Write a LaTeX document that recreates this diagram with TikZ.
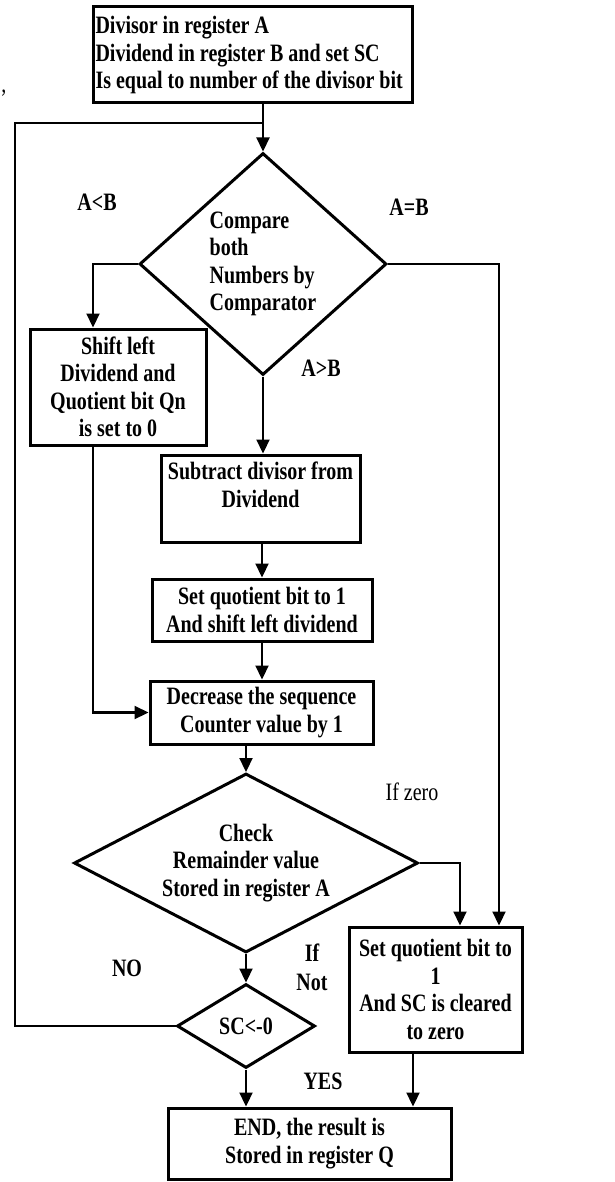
\documentclass[tikz,border=0pt]{standalone}
\usepackage{fontspec}
\setmainfont{Liberation Serif}[FakeStretch=0.8]
\usepackage{tikz}
\usetikzlibrary{arrows.meta,shapes.geometric,positioning}
\newcommand{\flowfont}{\fontsize{25}{27.5}\selectfont}
\tikzset{
  procbox/.style={
    draw,
    line width=3pt,
    align=center,
    inner sep=0pt,
    font=\flowfont\bfseries
  },
  decision/.style={
    diamond,
    draw,
    line width=3pt,
    align=center,
    inner sep=0pt,
    font=\flowfont\bfseries
  },
  flowarrow/.style={
    -{Triangle[length=14pt,width=13pt]},
    line width=2.2pt
  },
  loopline/.style={
    line width=1.6pt
  },
  branchlabel/.style={
    font=\flowfont\bfseries,
    inner sep=0pt
  }
}

\begin{document}
\begin{tikzpicture}[x=1pt,y=-1pt]
    \useasboundingbox (0,0) rectangle (615,1182);

    % process boxes and decisions
    \node[procbox, align=flush left, text width=314pt, minimum width=319pt, minimum height=96pt] (start) at (252.5,55) {
        Divisor in register A\\
        Dividend in register B and set SC\\
        Is equal to number of the divisor bit
    };
    \node[decision, align=flush left, aspect=1.1, minimum width=247pt, minimum height=222pt] (cmp) at (263,264) {
        Compare\\both\\Numbers by\\Comparator
    };
    \node[procbox, minimum width=176pt, minimum height=116pt] (shift) at (118,387) {
        Shift left\\Dividend and\\Quotient bit Qn\\is set to 0
    };
    \node[procbox, minimum width=199pt, minimum height=87pt] (sub) at (260.5,498.5) {
        Subtract divisor from\\Dividend\\\mbox{}
    };
    \node[procbox, minimum width=220pt, minimum height=62pt] (setq) at (262,610) {
        Set quotient bit to 1\\And shift left dividend
    };
    \node[procbox, minimum width=223pt, minimum height=63pt] (dec) at (261.5,712.5) {
        Decrease the sequence\\Counter value by 1
    };
    \node[decision, aspect=2, minimum width=344pt, minimum height=179pt] (chk) at (246,863) {
        Check\\Remainder value\\Stored in register A
    };
    \node[decision, minimum width=138pt, minimum height=84pt] (sc) at (246,1026) {SC<-0};
    \node[procbox, minimum width=173pt, minimum height=125pt] (setq2) at (435.5,989.5) {
        Set quotient bit to\\1\\And SC is cleared\\to zero
    };
    \node[procbox, minimum width=283pt, minimum height=71pt] (result) at (309.5,1143.5) {
        END, the result is\\Stored in register Q
    };

    % branch labels
    \node[branchlabel] (lless) at (97,202) {A<B};
    \node[branchlabel] (lequal) at (409,207) {A=B};
    \node[branchlabel] (lgreater) at (321,368) {A>B};
    \node[font=\flowfont, inner sep=0pt] (lzero) at (412,792) {If zero};
    \node[branchlabel] (lif) at (312,953) {If};
    \node[branchlabel] (lnot) at (312,982) {Not};
    \node[branchlabel] (lno) at (127,968) {NO};
    \node[branchlabel] (lyes) at (323,1081) {YES};
    \node[font=\flowfont, inner sep=0pt] (comma) at (4,93) {,};

    % rails for the bent connectors
    \coordinate (leftrail) at (15,123);
    \coordinate (shiftrail) at (93,0);
    \coordinate (eqrail) at (499,0);
    \coordinate (zerorail) at (460,0);
    \coordinate (endrail) at (413,0);

    \draw[flowarrow] (start.south -| cmp.north) -- (cmp.north);
    \draw[loopline] (sc.west) -| (leftrail) -- (leftrail -| cmp.north);
    \draw[flowarrow] (cmp.west) -| (shift.north -| shiftrail);
    \draw[flowarrow] (shift.south -| shiftrail) |- (dec.west);
    \draw[flowarrow] (cmp.east) -| (setq2.north -| eqrail);
    \draw[flowarrow] (cmp.south) -- (cmp.south |- sub.north);
    \draw[flowarrow] (sub.south -| setq.north) -- (setq.north);
    \draw[flowarrow] (setq.south) -- (setq.south |- dec.north);
    \draw[flowarrow] (dec.south -| chk.north) -- (chk.north);
    \draw[flowarrow] (chk.east) -| (setq2.north -| zerorail);
    \draw[flowarrow] (chk.south) -- (sc.north);
    \draw[flowarrow] (sc.south) -- (sc.south |- result.north);
    \draw[flowarrow] (setq2.south -| endrail) -- (result.north -| endrail);
\end{tikzpicture}
\end{document}
